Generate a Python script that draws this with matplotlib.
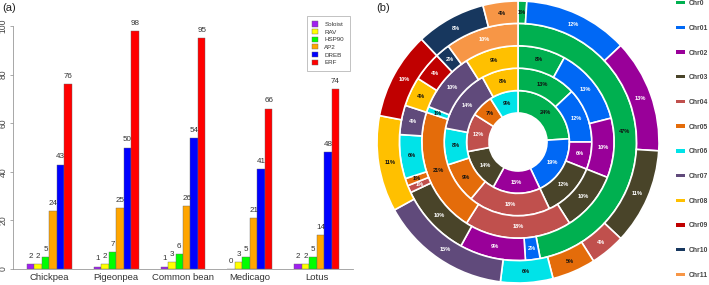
import numpy as np
import matplotlib
matplotlib.use('Agg')
import matplotlib.pyplot as plt
from matplotlib.patches import Patch

plt.rcParams['font.family'] = ['Liberation Sans', 'DejaVu Sans']

# ---- panel (a) data
species = ['Chickpea', 'Pigeonpea', 'Common bean', 'Medicago', 'Lotus']
families = ['Soloist', 'RAV', 'HSP90', 'AP2', 'DREB', 'ERF']
fam_colors = ['#A020F0', '#FFFF00', '#00FF00', '#FFA500', '#0000FF', '#FF0000']
soloist = [2, 1, 1, 0, 2]
rav = [2, 2, 3, 3, 2]
hsp90 = [5, 7, 6, 5, 5]
ap2 = [24, 25, 26, 21, 14]
dreb = [43, 50, 54, 41, 48]
erf = [76, 98, 95, 66, 74]

# ---- panel (b) data (rings from inside to outside, Chr0..Chr11)
chroms = ['Chr0', 'Chr01', 'Chr02', 'Chr03', 'Chr04', 'Chr05',
          'Chr06', 'Chr07', 'Chr08', 'Chr09', 'Chr10', 'Chr11']
chr_colors = ['#00B050', '#0068F5', '#990099', '#494429', '#C0504D', '#E46C0A',
              '#00E3E8', '#604A7B', '#FFC000', '#C00000', '#17375E', '#F79646']
ring1 = [24, 19, 15, 14, 12, 7, 9, 0, 0, 0, 0, 0]
ring2 = [13, 12, 6, 12, 18, 9, 8, 14, 8, 0, 0, 0]
ring3 = [8, 13, 10, 10, 18, 21, 1, 10, 9, 0, 0, 0]
ring4 = [47, 2, 9, 10, 1, 1, 6, 4, 4, 4, 2, 10]
ring5 = [1, 12, 13, 11, 4, 5, 6, 15, 11, 10, 8, 4]
rings = [ring1, ring2, ring3, ring4, ring5]
dark_text = {0, 5, 6, 8}

W, H = 709, 285
fig = plt.figure(figsize=(W / 100, H / 100), dpi=100)

# ================= (a) grouped bars =================
ax = fig.add_axes([12.7 / W, 16 / H, 340 / W, 243 / H])
series = [soloist, rav, hsp90, ap2, dreb, erf]
group_step = 8.92
x0 = np.arange(len(species)) * group_step
for j, (vals, name, col) in enumerate(zip(series, families, fam_colors)):
    xs = x0 + j + 0.5
    ax.bar(xs, vals, width=1.0, color=col, edgecolor='#666666', linewidth=0.3, label=name)
    for xv, v in zip(xs, vals):
        ax.annotate(str(v), (xv, v), xytext=(0, 3), textcoords='offset points',
                    ha='center', va='bottom', fontsize=5.8, color='#333333')

ax.set_xlim(-1.87, 43.47)
ax.set_ylim(0, 100)
ax.set_xticks(x0 + 3)
ax.set_xticklabels(species, fontsize=6.8, color='#333333')
ax.tick_params(axis='x', length=0, pad=3)
ax.set_yticks(np.arange(0, 101, 20))
ax.set_yticklabels([str(v) for v in range(0, 101, 20)], rotation=90, va='center',
                   fontsize=6.2, color='#444444')
ax.tick_params(axis='y', length=2.5, width=0.5, color='#888888', pad=1)
for s in ['top', 'right']:
    ax.spines[s].set_visible(False)
ax.spines['left'].set_color('#999999')
ax.spines['bottom'].set_color('#999999')
ax.spines['left'].set_linewidth(0.6)
ax.spines['bottom'].set_linewidth(0.6)
leg = ax.legend(loc='upper right', bbox_to_anchor=(1.0, 1.055), fontsize=4.5,
                fancybox=False, edgecolor='#aaaaaa', framealpha=1,
                handlelength=0.9, handleheight=0.9, handletextpad=1.0,
                labelspacing=0.3, borderpad=0.9)
leg.get_frame().set_linewidth(0.5)
for t in leg.get_texts():
    t.set_color('#333333')
fig.text(2 / W, 1 - 8 / H, '(a)', fontsize=8, va='center', ha='left', color='#222222')

# ================= (b) multi-ring donut =================
R = 141.0
hole = 29.0
rw = (R - hole) / len(rings)
bx = fig.add_axes([(518 - R) / W, (H - 142 - R) / H, 2 * R / W, 2 * R / H])
for k, ring in enumerate(rings):
    idx = [i for i, v in enumerate(ring) if v > 0]
    vals = [ring[i] for i in idx]
    cols = [chr_colors[i] for i in idx]
    r_out = hole + rw * (k + 1)
    wedges, _ = bx.pie(vals, radius=r_out, colors=cols, startangle=90, counterclock=False,
                       wedgeprops=dict(width=rw, edgecolor='white', linewidth=1.2))
    r_mid = r_out - rw / 2
    for w, i, v in zip(wedges, idx, vals):
        ang = np.deg2rad((w.theta1 + w.theta2) / 2)
        tc = '#111111' if (i in dark_text or (i == 11 and k == 4)) else 'white'
        bx.text(r_mid * np.cos(ang), r_mid * np.sin(ang), f'{v}%', ha='center', va='center',
                fontsize=4.1, fontweight='bold', color=tc)
bx.set_xlim(-R, R)
bx.set_ylim(-R, R)
bx.set_aspect('equal')
bx.axis('off')

handles = [Patch(facecolor=c, edgecolor='none') for c in chr_colors]
fig.legend(handles, chroms, loc='upper left', bbox_to_anchor=(670 / W, 1 + 6 / H),
           frameon=False, prop=dict(weight='bold', size=4.9),
           handlelength=1.35, handleheight=0.4, handletextpad=0.45, labelspacing=2.6,
           labelcolor='#444444')
fig.text(376 / W, 1 - 8 / H, '(b)', fontsize=8, va='center', ha='left', color='#222222')

fig.savefig('out.png', dpi=100)
